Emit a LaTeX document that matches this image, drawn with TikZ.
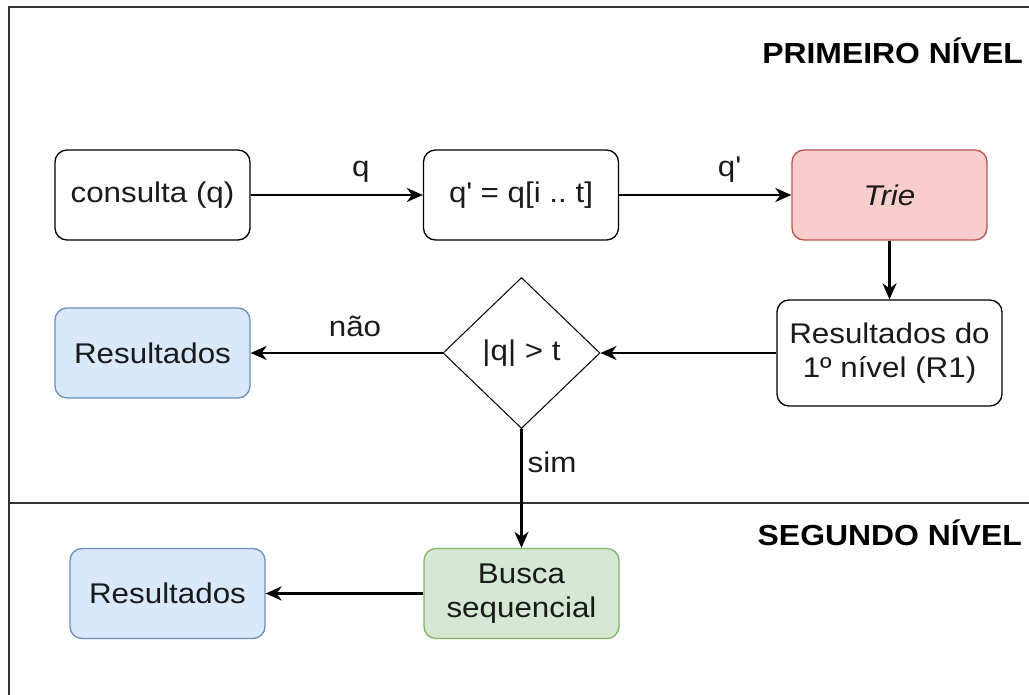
\documentclass[tikz,border=0pt]{standalone}
\usepackage{fontspec}
\setmainfont{Liberation Sans}[FakeStretch=1.1]
\usetikzlibrary{shapes.geometric,arrows.meta}
\frenchspacing

\definecolor{inkc}{HTML}{1A1A1A}
\definecolor{framec}{HTML}{333333}
\definecolor{pinkf}{HTML}{F8CECC}
\definecolor{pinkd}{HTML}{B85450}
\definecolor{bluef}{HTML}{DAE8FC}
\definecolor{blued}{HTML}{6C8EBF}
\definecolor{greenf}{HTML}{D5E8D4}
\definecolor{greend}{HTML}{82B366}

\begin{document}
\begin{tikzpicture}[x=1pt,y=-1pt,
  every node/.style={font=\fontsize{28.5}{34}\selectfont, text=inkc},
  stepbox/.style={draw=black, line width=1.3pt, rounded corners=12pt,
    align=center, minimum width=195pt, minimum height=90pt, inner sep=0pt},
  bluebox/.style={stepbox, fill=bluef, draw=blued},
  greenbox/.style={stepbox, fill=greenf, draw=greend},
  pinkbox/.style={stepbox, fill=pinkf, draw=pinkd},
  decision/.style={diamond, draw=black, line width=1pt, aspect=1.04,
    minimum width=157pt, minimum height=151pt, inner sep=0pt},
  flow/.style={line width=2.4pt, draw=black,
    -{Stealth[length=16pt,width=14pt,inset=5pt]}},
  frameline/.style={line width=1.8pt, draw=framec},
  header/.style={font=\fontsize{29}{34}\selectfont\bfseries, text=black,
    inner sep=0pt, anchor=base east},
  lbl/.style={inner sep=0pt}
]
\useasboundingbox (0,0) rectangle (1029,695);

% frame and the divider between the two levels
\coordinate (ftl) at (9,7);
\coordinate (ftr) at (1029,7);
\coordinate (fbl) at (9,695);
\coordinate (fml) at (9,503);
\coordinate (fmr) at (1029,503);
\draw[frameline] (ftr) -- (ftl) -- (fbl);
\draw[frameline] (fml) -- (fmr);

% level titles
\node[header] (h1) at (1023,64) {PRIMEIRO NÍVEL};
\node[header] (h2) at (1022,545) {SEGUNDO NÍVEL};

% first level
\node[stepbox] (cons) at (152.5,195) {consulta (q)};
\node[stepbox] (qp) at (521,195) {q\textquotesingle{} = q[i .. t]};
\node[pinkbox] (trie) at (889.5,195) {\itshape Trie};
\node[stepbox, minimum width=225pt, minimum height=106pt] (r1) at (889.5,353)
  {Resultados do\\1º nível (R1)};
\node[decision] (dec) at (521.5,353) {|q| > t};
\node[bluebox] (res1) at (152.5,353) {Resultados};

% second level
\node[greenbox] (busca) at (521.5,593.5) {Busca\\sequencial};
\node[bluebox] (res2) at (167.5,593.5) {Resultados};

% connectors
\draw[flow] (cons) -- node[lbl, pos=0.64, anchor=base, yshift=18pt] {q} (qp);
\draw[flow] (qp) -- node[lbl, pos=0.64, anchor=base, yshift=18pt] {q\textquotesingle} (trie);
\draw[flow] (trie) -- (r1);
\draw[flow] (r1) -- (dec);
\draw[flow] (dec) -- node[lbl, pos=0.456, anchor=base, yshift=16pt] {não} (res1);
\draw[flow] (dec) -- node[lbl, pos=0.28, anchor=west, xshift=5pt] {sim} (busca);
\draw[flow] (busca) -- (res2);
\end{tikzpicture}
\end{document}
